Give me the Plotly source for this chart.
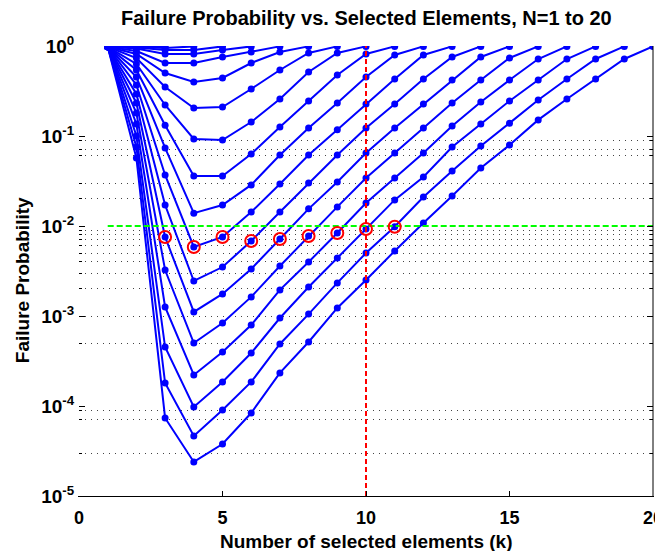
import plotly.graph_objects as go

# ---------------- data ----------------
k_values = list(range(1, 21))          # number of selected elements k
N_values = list(range(1, 21))          # curves N = 1 .. 20

fail_N1 = [0.98]
fail_N2 = [0.98, 0.99]
fail_N3 = [0.98, 0.99, 0.99]
fail_N4 = [0.98, 0.975, 0.95, 0.99]
fail_N5 = [0.98, 0.962, 0.903, 0.903, 0.99]
fail_N6 = [0.98, 0.938, 0.815, 0.815, 0.903, 0.99]
fail_N7 = [0.98, 0.880, 0.647, 0.647, 0.755, 0.858, 0.99]
fail_N8 = [0.98, 0.815, 0.501, 0.398, 0.441, 0.647, 0.858, 0.99]
fail_N9 = [0.98, 0.736, 0.350, 0.205, 0.210, 0.333, 0.541, 0.836, 0.99]
fail_N10 = [0.98, 0.631, 0.221, 0.0926, 0.0903, 0.143, 0.258, 0.514, 0.836, 0.99]
fail_N11 = [0.98, 0.541, 0.132, 0.0359, 0.0359, 0.0631, 0.126, 0.245, 0.476,
            0.815, 0.99]
fail_N12 = [0.98, 0.452, 0.0736, 0.0139, 0.0171, 0.0286, 0.0615, 0.123, 0.233,
            0.452, 0.794, 0.99]
fail_N13 = [0.98, 0.369, 0.0369, 0.00585, 0.00755, 0.0143, 0.0293, 0.0615,
            0.117, 0.227, 0.430, 0.794, 0.99]
fail_N14 = [0.98, 0.293, 0.0171, 0.00245, 0.00350, 0.00681, 0.0143, 0.0300,
            0.0615, 0.123, 0.227, 0.430, 0.755, 0.99]
fail_N15 = [0.98, 0.233, 0.00755, 0.00111, 0.00176, 0.00333, 0.00717, 0.0155,
            0.0308, 0.0647, 0.123, 0.227, 0.419, 0.755, 0.99]
fail_N16 = [0.98, 0.180, 0.00324, 0.000501, 0.000836, 0.00163, 0.00359,
            0.00774, 0.0163, 0.0341, 0.0647, 0.123, 0.233, 0.419, 0.736, 0.99]
fail_N17 = [0.98, 0.136, 0.00126, 0.000221, 0.000398, 0.000794, 0.00195,
            0.00398, 0.00836, 0.0180, 0.0341, 0.0647, 0.129, 0.239, 0.419,
            0.717, 0.99]
fail_N18 = [0.98, 0.100, 0.000452, 0.0000975, 0.000185, 0.000388, 0.000950,
            0.00210, 0.00441, 0.00926, 0.0195, 0.0350, 0.0755, 0.136, 0.245,
            0.419, 0.717, 0.99]
fail_N19 = [0.98, 0.0755, 0.000180, 0.0000464, 0.0000903, 0.000185, 0.000489,
            0.00105, 0.00233, 0.00501, 0.0098, 0.0210, 0.0408, 0.0774, 0.139,
            0.251, 0.430, 0.717, 0.99]
fail_N20 = [0.98, 0.057, 0.0000736, 0.0000239, 0.0000378, 0.0000836, 0.000233,
            0.000514, 0.00123, 0.00251, 0.00528, 0.0108, 0.0215, 0.0441,
            0.0794, 0.151, 0.258, 0.430, 0.717, 0.99]

curves = [fail_N1, fail_N2, fail_N3, fail_N4, fail_N5, fail_N6, fail_N7,
          fail_N8, fail_N9, fail_N10, fail_N11, fail_N12, fail_N13, fail_N14,
          fail_N15, fail_N16, fail_N17, fail_N18, fail_N19, fail_N20]

# smallest N meeting the 1e-2 target, for each k (red circles)
marked_k = [3, 4, 5, 6, 7, 8, 9, 10, 11]
marked_N = [15, 13, 13, 14, 15, 16, 17, 18, 19]

threshold = 0.01
threshold_k_span = [1, 20]
chosen_k = 10

y_tick_vals = [1e-5, 1e-4, 1e-3, 1e-2, 1e-1, 1e0]
y_tick_text = ["10<sup>-5</sup>", "10<sup>-4</sup>", "10<sup>-3</sup>",
               "10<sup>-2</sup>", "10<sup>-1</sup>", "10<sup>0</sup>"]
x_tick_vals = [0, 5, 10, 15, 20]
# dotted grid lines that are visible in the reference
grid_vals = [0.09, 0.07, 0.06, 0.03, 0.02,
             0.009, 0.008, 0.007, 0.006, 0.005, 0.004, 0.003, 0.002,
             0.001, 0.0005, 0.00009, 0.00007, 0.00003]

# ---------------- figure ----------------
BLUE = "#0000FF"
FONT = "Liberation Sans, Arial, Helvetica, sans-serif"

fig = go.Figure()

for n, vals in zip(N_values, curves):
    fig.add_trace(go.Scatter(
        x=k_values[:n], y=vals, mode="lines+markers",
        line=dict(color=BLUE, width=2),
        marker=dict(size=7, color=BLUE, symbol="circle"),
        hoverinfo="x+y", name=f"N={n}"))

fig.add_trace(go.Scatter(
    x=threshold_k_span, y=[threshold, threshold], mode="lines",
    line=dict(color="#00FF00", width=2, dash="6px,3px"), hoverinfo="skip"))

fig.add_trace(go.Scatter(
    x=[chosen_k, chosen_k], y=[y_tick_vals[0], y_tick_vals[-1]], mode="lines",
    line=dict(color="#FF0000", width=2, dash="5px,3px"), hoverinfo="skip"))

fig.add_trace(go.Scatter(
    x=marked_k,
    y=[curves[n - 1][k - 1] for k, n in zip(marked_k, marked_N)],
    mode="markers",
    marker=dict(size=12, symbol="circle-open", color="#FF0000",
                line=dict(color="#FF0000", width=2)),
    hoverinfo="x+y"))

# the page body adds an 8px offset, so the figure is sized to fit the window
fig.update_layout(
    width=655, height=543,
    margin=dict(l=71, r=10, t=38, b=55, autoexpand=False),
    paper_bgcolor="white", plot_bgcolor="white",
    showlegend=False,
    font=dict(family=FONT, color="black"),
    shapes=[dict(type="line", xref="paper", yref="paper", x0=1, x1=1,
                 y0=0, y1=1, line=dict(color="black", width=1))],
    annotations=[
        dict(text="<b>Failure Probability vs. Selected Elements, N=1 to 20</b>",
             xref="paper", yref="paper", x=0.5, y=1.062,
             xanchor="center", yanchor="middle", showarrow=False,
             font=dict(size=20, family=FONT, color="black")),
        dict(text="<b>Number of selected elements (k)</b>",
             xref="paper", yref="paper", x=0.5, y=-0.10,
             xanchor="center", yanchor="middle", showarrow=False,
             font=dict(size=19, family=FONT, color="black")),
        dict(text="<b>Failure Probability</b>",
             xref="paper", yref="paper", x=-0.099, y=0.48,
             xanchor="center", yanchor="middle", showarrow=False,
             textangle=-90,
             font=dict(size=19, family=FONT, color="black")),
    ],
)

fig.update_xaxes(
    range=[0, 20], tickmode="array", tickvals=x_tick_vals,
    ticks="inside", ticklen=5, tickcolor="black",
    showline=True, linecolor="black", linewidth=1, mirror=False,
    showgrid=False, zeroline=False, automargin=False, ticklabelstandoff=5,
    ticklabeloverflow="allow",
    tickfont=dict(size=18, family=FONT, color="black", weight="bold"))

fig.update_yaxes(
    type="log", range=[-5, 0], tickmode="array",
    tickvals=y_tick_vals, ticktext=y_tick_text,
    ticks="inside", ticklen=6, tickcolor="black",
    showline=True, linecolor="rgba(0,0,0,0)", linewidth=1, mirror="ticks",
    showgrid=False, zeroline=False, automargin=False,
    ticklabeloverflow="allow",
    tickfont=dict(size=19, family=FONT, color="black", weight="bold"),
    minor=dict(tickmode="array", tickvals=grid_vals, ticks="inside",
               ticklen=3, tickcolor="black", showgrid=True,
               gridcolor="#444444", griddash="1px,5px", gridwidth=1))

fig.write_html("out.html")
